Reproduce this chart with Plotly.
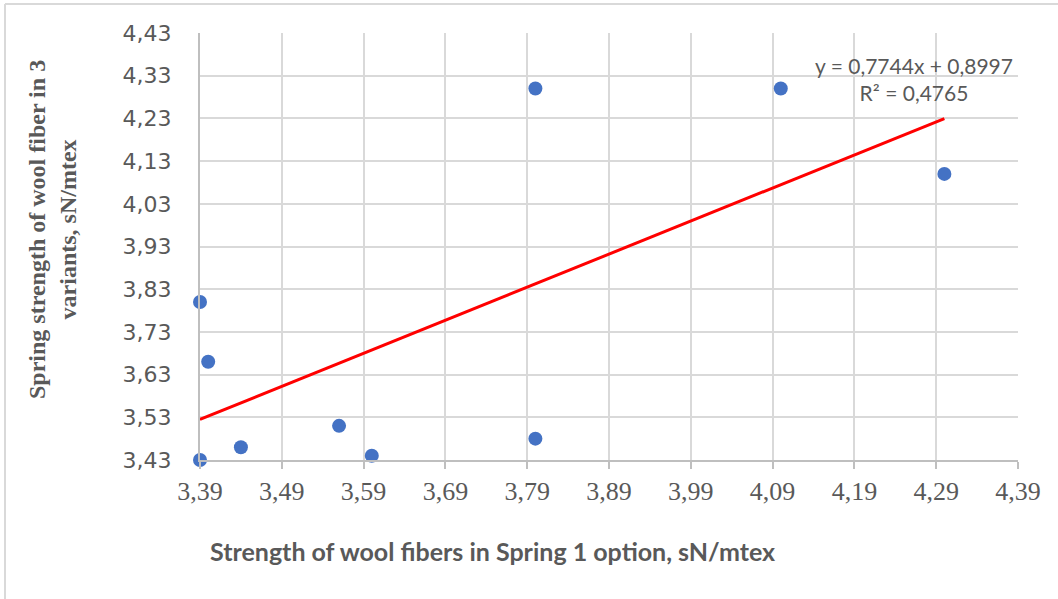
import numpy as np
import plotly.graph_objects as go

# Data
spring1_strength = [3.39, 3.40, 3.39, 3.44, 3.56, 3.60, 3.80, 3.80, 4.10, 4.30]
spring3_strength = [3.80, 3.66, 3.43, 3.46, 3.51, 3.44, 3.48, 4.30, 4.30, 4.10]

x_tickvals = [3.39, 3.49, 3.59, 3.69, 3.79, 3.89, 3.99, 4.09, 4.19, 4.29, 4.39]
x_ticktext = ["3,39", "3,49", "3,59", "3,69", "3,79", "3,89", "3,99", "4,09", "4,19", "4,29", "4,39"]
y_tickvals = [3.43, 3.53, 3.63, 3.73, 3.83, 3.93, 4.03, 4.13, 4.23, 4.33, 4.43]
y_ticktext = ["3,43", "3,53", "3,63", "3,73", "3,83", "3,93", "4,03", "4,13", "4,23", "4,33", "4,43"]

x_title = "Strength of wool fibers in Spring 1 option, sN/mtex"
y_title = "Spring strength of wool fiber in 3<br>variants, sN/mtex"
trend_label = "y = 0,7744x + 0,8997<br>R² = 0,4765"

# Linear trend line computed from the data
slope, intercept = np.polyfit(spring1_strength, spring3_strength, 1)
tx = np.array([min(spring1_strength), max(spring1_strength)])
ty = slope * tx + intercept

GRID = "#D9D9D9"
AXIS = "#BFBFBF"
TEXT = "#595959"
SERIF = "Liberation Serif, Times New Roman, DejaVu Serif, serif"

fig = go.Figure()
fig.add_trace(go.Scatter(
    x=tx, y=ty, mode="lines",
    line=dict(color="#FF0000", width=3),
    hoverinfo="skip", showlegend=False,
))
fig.add_trace(go.Scatter(
    x=spring1_strength, y=spring3_strength, mode="markers",
    marker=dict(color="#4472C4", size=14),
    cliponaxis=False, showlegend=False,
))

W, H = 1058, 599
L, R, T, B = 200, 40, 33, 139
pw, ph = W - L - R, H - T - B

def px_x(p):
    return (p - L) / pw

def px_y(p):
    return (H - B - p) / ph

fig.update_layout(
    width=W, height=H,
    margin=dict(l=L, r=R, t=T, b=B),
    paper_bgcolor="white", plot_bgcolor="white",
    showlegend=False,
    xaxis=dict(
        range=[3.39, 4.39], tickvals=x_tickvals, ticktext=x_ticktext,
        showgrid=True, gridcolor=GRID, gridwidth=2,
        showline=True, linecolor=AXIS, linewidth=2,
        ticks="outside", ticklen=7, tickwidth=2, tickcolor=AXIS,
        tickfont=dict(family=SERIF, size=26, color=TEXT),
        zeroline=False,
    ),
    yaxis=dict(
        range=[3.43, 4.43], tickvals=y_tickvals, ticktext=y_ticktext,
        showgrid=True, gridcolor=GRID, gridwidth=2,
        showline=True, linecolor=AXIS, linewidth=2,
        ticks="outside", ticklen=22, tickcolor="rgba(0,0,0,0)",
        tickfont=dict(family="DejaVu Sans", size=22, color=TEXT),
        zeroline=False,
    ),
    annotations=[
        dict(text=x_title, xref="paper", yref="paper",
             x=px_x(492), y=px_y(551), xanchor="center", yanchor="middle",
             showarrow=False,
             font=dict(family="Lato", size=25, color=TEXT, weight="bold")),
        dict(text=y_title, xref="paper", yref="paper",
             x=px_x(53), y=px_y(230), xanchor="center", yanchor="middle",
             textangle=-90, showarrow=False,
             font=dict(family=SERIF, size=24, color=TEXT, weight="bold")),
        dict(text=trend_label, xref="paper", yref="paper",
             x=px_x(914), y=px_y(79), xanchor="center", yanchor="middle",
             showarrow=False, align="center",
             font=dict(family="Lato", size=21, color=TEXT)),
    ],
    shapes=[
        dict(type="line", xref="paper", yref="paper",
             x0=px_x(5), x1=px_x(5), y0=px_y(4), y1=px_y(600),
             line=dict(color=GRID, width=2)),
        dict(type="line", xref="paper", yref="paper",
             x0=px_x(5), x1=px_x(1060), y0=px_y(4), y1=px_y(4),
             line=dict(color=GRID, width=2)),
    ],
)

fig.write_html("out.html")
